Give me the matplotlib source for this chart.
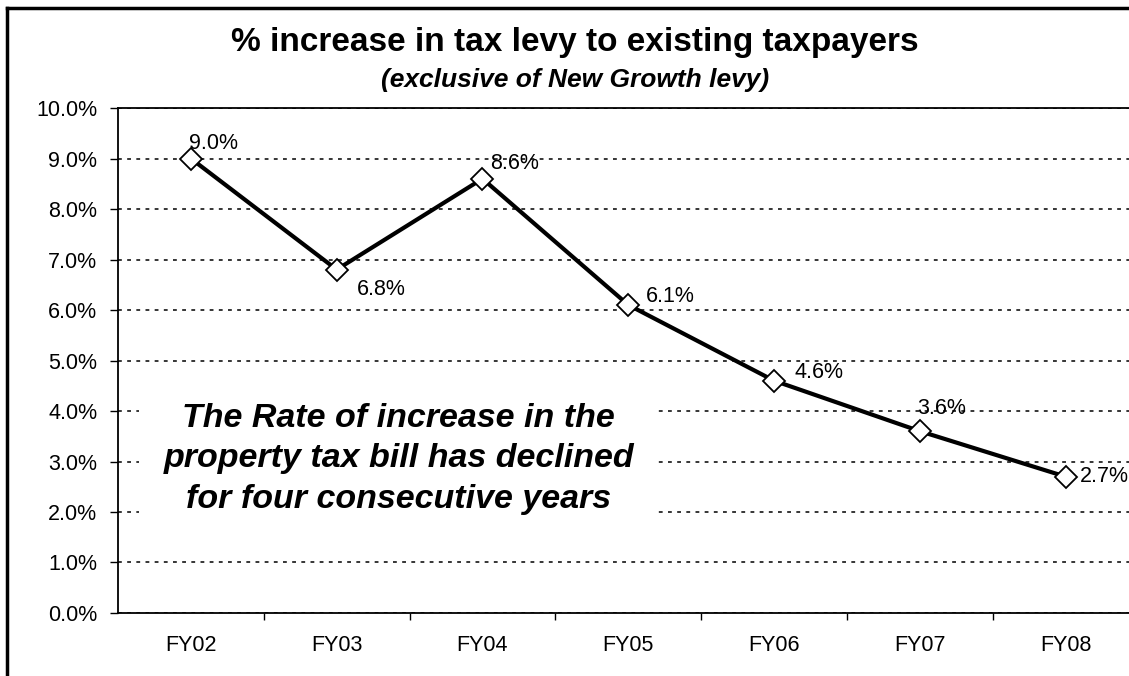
"""Line chart: % increase in tax levy to existing taxpayers, FY02-FY08."""

import matplotlib
matplotlib.use('Agg')
import matplotlib.pyplot as plt
from matplotlib.lines import Line2D

plt.rcParams['font.family'] = ['Liberation Sans', 'DejaVu Sans']

years = ['FY02', 'FY03', 'FY04', 'FY05', 'FY06', 'FY07', 'FY08']
levy_pct = [9.0, 6.8, 8.6, 6.1, 4.6, 3.6, 2.7]
y_ticks = [0, 1, 2, 3, 4, 5, 6, 7, 8, 9, 10]

# label offsets (pixels) from each point
label_offsets = [(-2, 15), (20, -20), (8, 15), (18, 8), (20, 8), (-3, 23), (14, 0)]

fig = plt.figure(figsize=(11.29, 6.76), dpi=100, facecolor='white')
ax = fig.add_axes([0.1045, 0.0932, 0.904, 0.747])

x = list(range(len(years)))
ax.plot(x, levy_pct, color='black', linewidth=3, marker='D', markersize=11,
        markerfacecolor='white', markeredgecolor='black', markeredgewidth=1.3,
        zorder=5)

for xi, val, (dx, dy) in zip(x, levy_pct, label_offsets):
    ax.annotate(f'{val:.1f}%', (xi, val), xytext=(dx, dy),
                textcoords='offset pixels', ha='left', va='center',
                fontsize=15.5, color='black', zorder=6)

ax.set_xlim(-0.5, len(years) - 0.5)
ax.set_ylim(0, 10)
ax.set_yticks(y_ticks)
ax.set_yticklabels([f'{t:.1f}%' for t in y_ticks])
ax.set_xticks(x)
ax.set_xticklabels(years)
ax.set_xticks([i - 0.5 for i in range(1, len(years))], minor=True)

ax.tick_params(axis='y', direction='out', length=6, width=1, labelsize=15.5,
               pad=9)
ax.tick_params(axis='x', which='major', length=0, labelsize=15.5, pad=16)
ax.tick_params(axis='x', which='minor', direction='out', length=5, width=1)

ax.grid(axis='y', color='black', linestyle=(0, (2.5, 3.5)), linewidth=1.1,
        zorder=1)
for s in ['left', 'bottom', 'top']:
    ax.spines[s].set_linewidth(1.3)
ax.spines['right'].set_visible(False)

ax.text(1.425, 3.05,
        'The Rate of increase in the\nproperty tax bill has declined\n'
        'for four consecutive years',
        ha='center', va='center', fontsize=24.5, fontweight='bold',
        style='italic', linespacing=1.38, zorder=4,
        bbox=dict(boxstyle='square,pad=0.72', facecolor='white',
                  edgecolor='none'))

fig.text(0.509, 1 - 43 / 676, '% increase in tax levy to existing taxpayers',
         ha='center', va='center', fontsize=24, fontweight='bold')
fig.text(0.509, 1 - 80 / 676, '(exclusive of New Growth levy)',
         ha='center', va='center', fontsize=19, fontweight='bold',
         style='italic')

# scanned page border (left and top edges)
fig.add_artist(Line2D([7 / 1129, 7 / 1129], [0, 1 - 8 / 676],
                      transform=fig.transFigure, color='black', linewidth=2.5))
fig.add_artist(Line2D([7 / 1129, 1], [1 - 8 / 676, 1 - 8 / 676],
                      transform=fig.transFigure, color='black', linewidth=2.5))

fig.savefig('out.png', dpi=100, facecolor='white')
